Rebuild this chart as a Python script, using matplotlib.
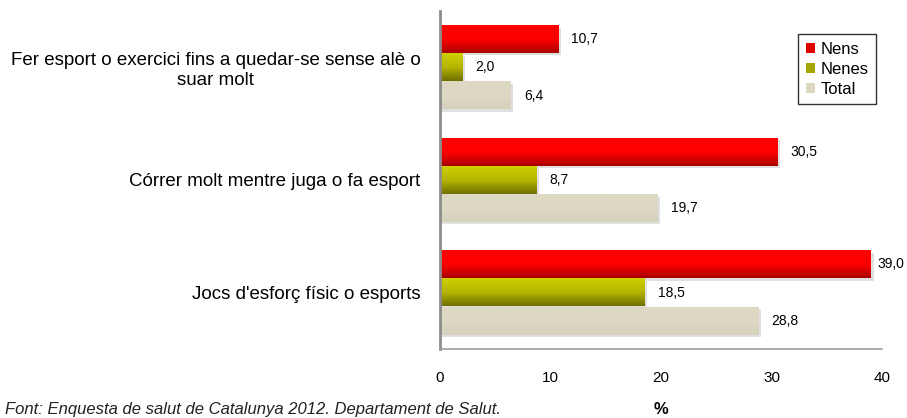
import matplotlib
matplotlib.use("Agg")
import matplotlib.pyplot as plt
import numpy as np
from matplotlib.patches import Patch, Rectangle
from matplotlib.colors import LinearSegmentedColormap

plt.rcParams['font.family'] = ['Liberation Sans', 'DejaVu Sans']

categories = ["Fer esport o exercici fins a quedar-se sense alè o\nsuar molt",
              "Córrer molt mentre juga o fa esport",
              "Jocs d'esforç físic o esports"]
series_names = ["Nens", "Nenes", "Total"]
nens = [10.7, 30.5, 39.0]
nenes = [2.0, 8.7, 18.5]
total = [6.4, 19.7, 28.8]
values = [nens, nenes, total]
xticks = [0, 10, 20, 30, 40]

grad = [("#FF0000", "#FF0000", "#A80000"),
        ("#CFCF00", "#B5B500", "#707000"),
        ("#DDD8C3", "#DDD8C3", "#D6D1BC")]
legend_colors = ["#E00000", "#A6A600", "#DDD8C3"]

fig = plt.figure(figsize=(9.07, 4.18), dpi=100)
ax = fig.add_axes([440/907, 69/418, 442/907, 338/418])
ax.set_xlim(0, 40)
ax.set_ylim(-0.5, 2.5)

h = 0.245
offsets = [0.25, 0.0, -0.25]
for s, vals in enumerate(values):
    cmap = LinearSegmentedColormap.from_list("g%d" % s, list(grad[s]))
    for i, v in enumerate(vals):
        yc = 2 - i + offsets[s]
        y0, y1 = yc - h/2, yc + h/2
        # shadow
        ax.add_patch(Rectangle((0, y0 - 0.02), v + 0.25, h, facecolor="#000000",
                               alpha=0.12, edgecolor="none", zorder=1))
        g = np.linspace(0, 1, 64).reshape(-1, 1)
        ax.imshow(g, cmap=cmap, extent=[0, v, y0, y1], aspect='auto',
                  origin='upper', zorder=2)
        lx = min(v + 1.2, 39.6)
        ax.text(lx, yc, ("%.1f" % v).replace(".", ","), va='center',
                ha='left', fontsize=10, color="#000000", zorder=3, clip_on=False)

ax.set_xlim(0, 40)
ax.set_ylim(-0.5, 2.5)
ax.set_yticks([2, 1, 0])
ax.set_yticklabels(categories, fontsize=13.5, multialignment='center')
ax.tick_params(axis='y', length=0, pad=14)
ax.set_xticks(xticks)
ax.set_xticklabels([str(t) for t in xticks], fontsize=11)
ax.tick_params(axis='x', length=0, pad=16)
for sp in ['top', 'right']:
    ax.spines[sp].set_visible(False)
ax.spines['left'].set_color("#8C8C8C")
ax.spines['left'].set_linewidth(2)
ax.spines['bottom'].set_color("#A0A0A0")
ax.spines['bottom'].set_linewidth(1.2)

handles = [Patch(facecolor=c, edgecolor='none') for c in legend_colors]
leg = fig.legend(handles, series_names, loc='upper left',
                 bbox_to_anchor=(798/907, 1 - 34/418), fontsize=12,
                 frameon=True, fancybox=False, handlelength=0.55,
                 handleheight=0.55, handletextpad=0.35, labelspacing=0.3,
                 borderpad=0.45, borderaxespad=0)
leg.get_frame().set_edgecolor("#000000")
leg.get_frame().set_linewidth(1.0)

fig.text(661/907, 1/418, "%", fontsize=12, fontweight='bold',
         ha='center', va='bottom')
fig.text(5/907, 1/418,
         "Font: Enquesta de salut de Catalunya 2012. Departament de Salut.",
         fontsize=12, style='italic', ha='left', va='bottom', color="#222222")

fig.savefig("out.png", dpi=100)
